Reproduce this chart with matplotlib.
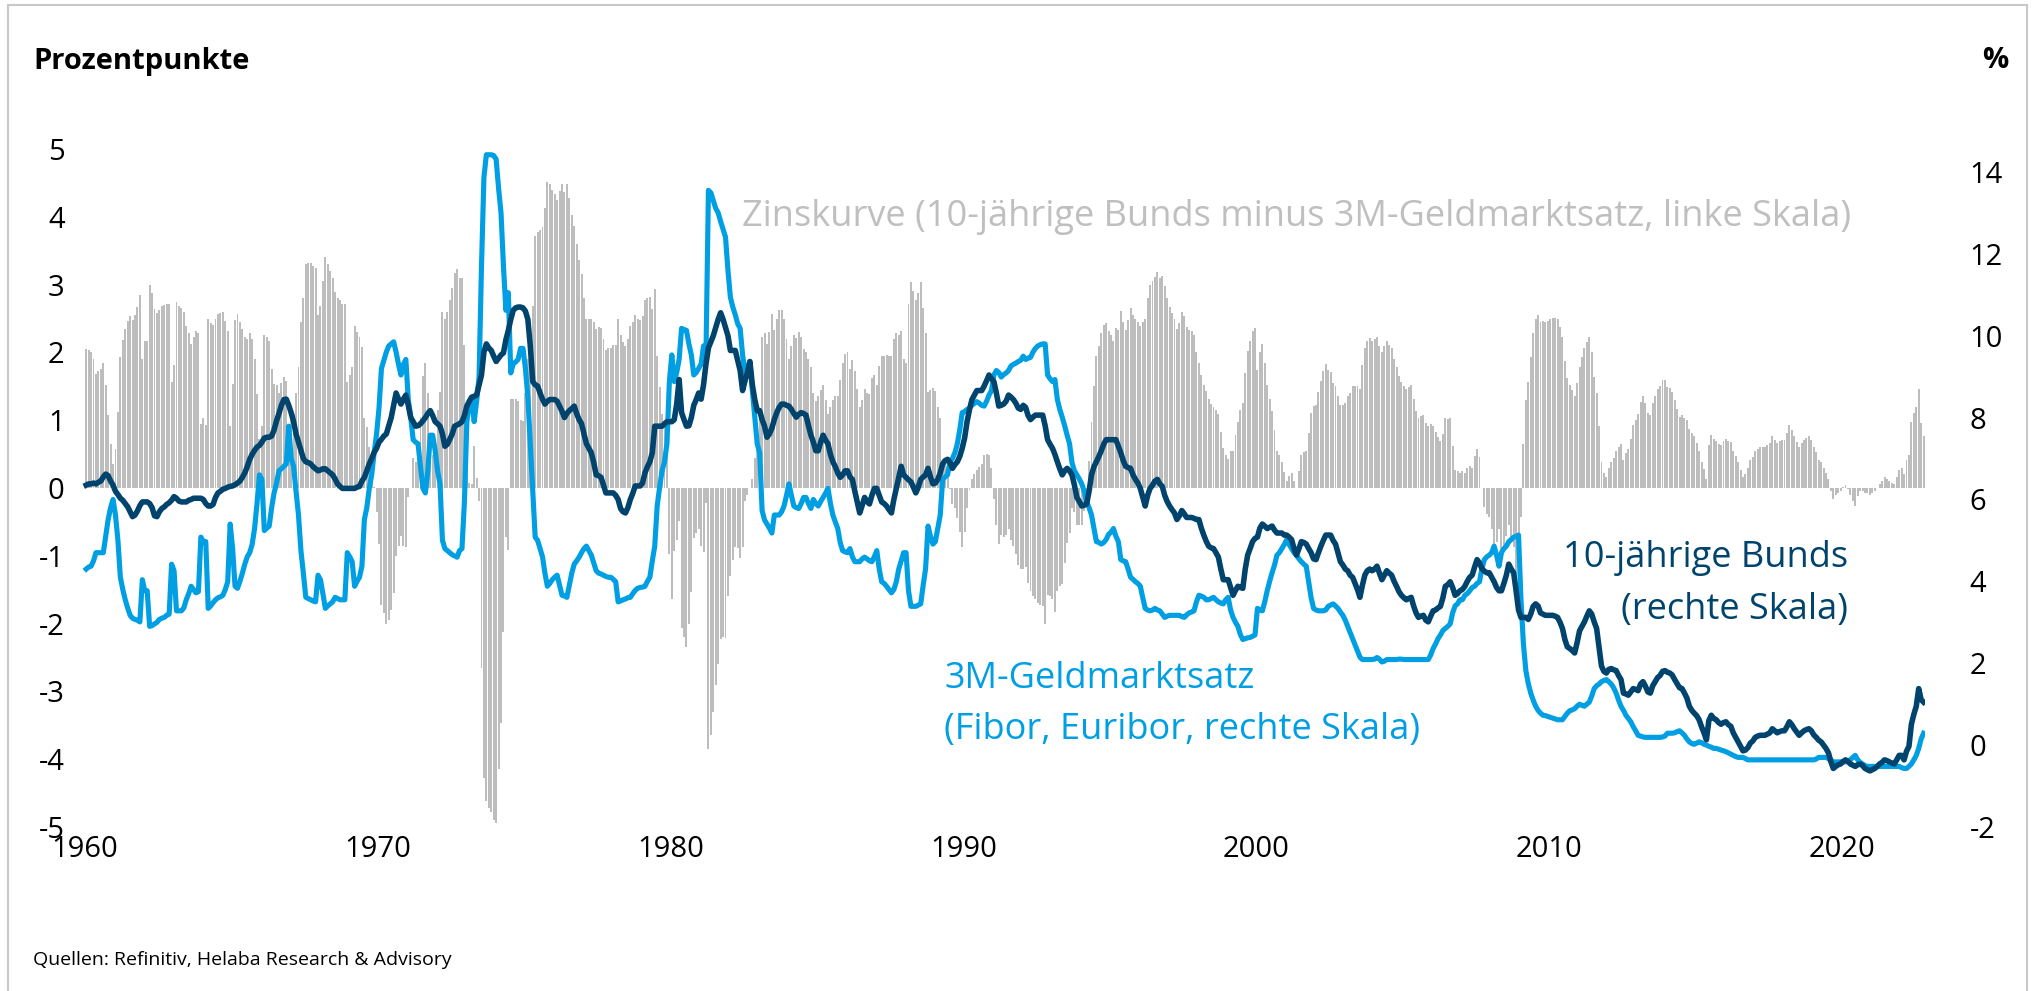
import numpy as np
import matplotlib.pyplot as plt
from matplotlib.patches import Rectangle

plt.rcParams['font.family'] = ['Open Sans', 'DejaVu Sans']
plt.rcParams['axes.unicode_minus'] = False

# 10-jaehrige Bunds, Monatswerte ab Jan 1960 (%)
bund_10y = [
    6.35, 6.38, 6.38, 6.40, 6.38, 6.42, 6.45, 6.55, 6.62, 6.58, 6.45, 6.35,  # 1960
    6.20, 6.12, 6.03, 5.98, 5.90, 5.82, 5.70, 5.58, 5.62, 5.72, 5.85, 5.94,
    5.94, 5.94, 5.90, 5.80, 5.60, 5.58, 5.70, 5.78, 5.82, 5.88, 5.92, 5.98,
    6.07, 6.03, 5.96, 5.94, 5.94, 5.94, 5.98, 6.00, 6.03, 6.03, 6.03, 6.03,
    6.00, 5.90, 5.84, 5.84, 5.88, 6.05, 6.16, 6.20, 6.25, 6.27, 6.30, 6.32,
    6.33, 6.36, 6.40, 6.45, 6.54, 6.65, 6.80, 6.98, 7.10, 7.20, 7.28, 7.32,  # 1965
    7.40, 7.50, 7.52, 7.52, 7.55, 7.70, 7.92, 8.10, 8.30, 8.44, 8.45, 8.30,
    8.12, 7.90, 7.60, 7.40, 7.20, 7.00, 6.92, 6.90, 6.87, 6.80, 6.75, 6.70,
    6.72, 6.75, 6.75, 6.70, 6.65, 6.60, 6.50, 6.38, 6.32, 6.27, 6.27, 6.27,
    6.27, 6.27, 6.27, 6.30, 6.32, 6.45, 6.54, 6.70, 6.87, 7.00, 7.15, 7.25,
    7.40, 7.47, 7.55, 7.60, 7.80, 8.00, 8.30, 8.60, 8.45, 8.33, 8.45, 8.55,  # 1970
    8.30, 8.00, 7.90, 7.79, 7.80, 7.85, 7.92, 8.00, 8.10, 8.17, 8.05, 7.90,
    7.85, 7.79, 7.60, 7.30, 7.35, 7.47, 7.60, 7.79, 7.82, 7.85, 7.90, 8.05,
    8.28, 8.40, 8.50, 8.52, 8.55, 8.80, 9.04, 9.60, 9.80, 9.70, 9.64, 9.50,
    9.37, 9.45, 9.53, 9.58, 9.90, 10.13, 10.40, 10.62, 10.68, 10.70, 10.70, 10.68,
    10.60, 10.40, 9.75, 8.88, 8.80, 8.77, 8.60, 8.45, 8.33, 8.40, 8.44, 8.44,  # 1975
    8.44, 8.40, 8.28, 8.15, 8.00, 8.10, 8.17, 8.22, 8.28, 8.10, 7.95, 7.85,
    7.60, 7.36, 7.25, 7.14, 6.90, 6.60, 6.58, 6.54, 6.35, 6.16, 6.16, 6.16,
    6.16, 6.10, 6.00, 5.78, 5.70, 5.67, 5.80, 6.00, 6.15, 6.33, 6.33, 6.33,
    6.40, 6.65, 6.80, 6.92, 7.14, 7.79, 7.79, 7.79, 7.79, 7.85, 7.90, 7.90,
    7.90, 7.95, 8.33, 8.93, 8.12, 7.95, 7.79, 7.80, 8.00, 8.30, 8.44, 8.60,  # 1980
    8.45, 8.80, 9.31, 9.70, 9.85, 10.00, 10.20, 10.40, 10.56, 10.40, 10.20, 10.00,
    9.64, 9.64, 9.64, 9.40, 9.15, 8.66, 8.90, 9.10, 9.37, 8.80, 8.44, 8.17,
    8.17, 7.95, 7.79, 7.52, 7.60, 7.74, 7.95, 8.12, 8.25, 8.33, 8.33, 8.30,
    8.28, 8.20, 8.10, 8.01, 8.08, 8.12, 8.10, 8.06, 7.80, 7.57, 7.40, 7.19,
    7.19, 7.40, 7.57, 7.45, 7.36, 7.10, 6.92, 6.80, 6.65, 6.54, 6.60, 6.70,  # 1985
    6.70, 6.55, 6.49, 6.20, 5.94, 5.67, 5.85, 6.05, 5.95, 5.89, 6.10, 6.27,
    6.27, 6.10, 5.94, 5.90, 5.84, 5.75, 5.67, 6.00, 6.27, 6.55, 6.81, 6.60,
    6.54, 6.48, 6.43, 6.30, 6.16, 6.30, 6.49, 6.55, 6.60, 6.76, 6.55, 6.38,
    6.40, 6.49, 6.65, 6.87, 6.95, 6.98, 6.90, 6.76, 6.85, 6.92, 7.05, 7.25,
    7.50, 7.90, 8.20, 8.44, 8.55, 8.66, 8.66, 8.66, 8.77, 8.90, 9.04, 8.95,  # 1990
    8.88, 8.60, 8.28, 8.30, 8.33, 8.40, 8.55, 8.50, 8.44, 8.35, 8.23, 8.20,
    8.30, 8.25, 8.05, 7.95, 8.01, 8.06, 8.06, 8.06, 8.06, 7.80, 7.46, 7.35,
    7.25, 7.10, 6.92, 6.75, 6.60, 6.70, 6.76, 6.70, 6.60, 6.35, 6.05, 5.95,
    5.84, 5.86, 5.89, 6.20, 6.60, 6.80, 6.92, 7.05, 7.19, 7.35, 7.46, 7.46,
    7.46, 7.46, 7.46, 7.30, 7.14, 6.95, 6.81, 6.78, 6.76, 6.60, 6.49, 6.40,  # 1995
    6.27, 6.05, 5.84, 6.10, 6.27, 6.35, 6.45, 6.49, 6.38, 6.32, 6.10, 5.95,
    5.84, 5.75, 5.67, 5.51, 5.60, 5.73, 5.65, 5.56, 5.56, 5.56, 5.54, 5.51,
    5.51, 5.30, 5.13, 4.98, 4.86, 4.82, 4.80, 4.70, 4.59, 4.30, 4.04, 4.04,
    4.04, 3.85, 3.66, 3.78, 3.88, 3.85, 3.83, 4.30, 4.64, 4.80, 4.97, 5.05,
    5.08, 5.30, 5.40, 5.35, 5.29, 5.32, 5.35, 5.25, 5.18, 5.18, 5.18, 5.13,  # 2000
    5.13, 5.08, 5.02, 4.80, 4.64, 4.80, 4.97, 4.95, 4.91, 4.80, 4.70, 4.55,
    4.53, 4.70, 4.86, 5.00, 5.13, 5.13, 5.13, 5.00, 4.91, 4.70, 4.48, 4.40,
    4.30, 4.26, 4.15, 4.10, 3.95, 3.80, 3.61, 3.90, 4.15, 4.26, 4.30, 4.26,
    4.30, 4.37, 4.20, 4.04, 4.15, 4.26, 4.20, 4.15, 4.00, 3.88, 3.75, 3.66,
    3.60, 3.55, 3.58, 3.61, 3.40, 3.23, 3.12, 3.15, 3.17, 3.05, 3.01, 3.15,  # 2005
    3.28, 3.30, 3.35, 3.39, 3.60, 3.88, 3.92, 3.99, 3.85, 3.66, 3.70, 3.77,
    3.80, 3.88, 4.00, 4.10, 4.15, 4.35, 4.53, 4.45, 4.31, 4.25, 4.21, 4.21,
    4.10, 3.99, 3.85, 3.77, 3.77, 3.95, 4.15, 4.42, 4.30, 4.21, 3.77, 3.30,
    3.12, 3.12, 3.12, 3.07, 3.20, 3.39, 3.45, 3.40, 3.23, 3.20, 3.17, 3.17,
    3.17, 3.17, 3.15, 3.12, 3.00, 2.85, 2.58, 2.40, 2.36, 2.31, 2.25, 2.50,  # 2010
    2.79, 2.90, 3.01, 3.15, 3.28, 3.20, 3.01, 2.85, 2.40, 1.93, 1.80, 1.76,
    1.85, 1.87, 1.84, 1.82, 1.70, 1.60, 1.27, 1.25, 1.22, 1.30, 1.38, 1.36,
    1.33, 1.49, 1.55, 1.44, 1.30, 1.27, 1.45, 1.55, 1.65, 1.70, 1.80, 1.82,
    1.78, 1.76, 1.71, 1.60, 1.50, 1.40, 1.38, 1.27, 1.15, 0.95, 0.85, 0.78,
    0.72, 0.62, 0.45, 0.30, 0.13, 0.60, 0.73, 0.65, 0.62, 0.55, 0.51, 0.55,  # 2015
    0.57, 0.50, 0.46, 0.30, 0.19, 0.08, -0.03, -0.14, -0.12, -0.06, 0.05, 0.10,
    0.19, 0.22, 0.24, 0.24, 0.24, 0.27, 0.30, 0.40, 0.35, 0.30, 0.33, 0.35,
    0.35, 0.45, 0.57, 0.50, 0.40, 0.32, 0.24, 0.30, 0.35, 0.38, 0.40, 0.35,
    0.25, 0.19, 0.12, 0.08, 0.00, -0.08, -0.19, -0.40, -0.57, -0.52, -0.48, -0.46,
    -0.40, -0.36, -0.40, -0.46, -0.49, -0.52, -0.48, -0.46, -0.50, -0.57, -0.60, -0.63,  # 2020
    -0.60, -0.57, -0.52, -0.46, -0.42, -0.36, -0.38, -0.41, -0.44, -0.46, -0.36, -0.25,
    -0.25, -0.36, -0.15, -0.03, 0.51, 0.75, 0.95, 1.38, 1.11, 1.05,  # 2022 (bis Okt)
]

# 3M-Geldmarktsatz (Fibor, Euribor), Monatswerte ab Jan 1960 (%)
geldmarkt_3m = [
    4.30, 4.35, 4.37, 4.50, 4.70, 4.70, 4.70, 4.70, 5.10, 5.51, 5.80, 6.00,  # 1960
    5.62, 5.00, 4.10, 3.80, 3.55, 3.35, 3.17, 3.10, 3.07, 3.05, 3.01, 4.04,
    3.77, 3.77, 2.90, 2.92, 2.96, 3.00, 3.07, 3.10, 3.12, 3.17, 3.20, 4.42,
    4.26, 3.28, 3.28, 3.28, 3.35, 3.55, 3.70, 3.88, 3.80, 3.72, 3.75, 5.08,
    4.97, 4.97, 3.34, 3.40, 3.48, 3.55, 3.60, 3.62, 3.66, 3.80, 3.99, 5.40,
    4.80, 3.88, 3.83, 4.00, 4.20, 4.42, 4.60, 4.70, 4.90, 5.29, 5.90, 6.60,  # 1965
    6.49, 5.24, 5.30, 5.35, 5.80, 6.16, 6.40, 6.70, 6.75, 6.81, 6.87, 7.79,
    7.00, 6.81, 6.20, 5.62, 4.75, 4.20, 3.61, 3.58, 3.55, 3.52, 3.50, 4.15,
    4.04, 3.70, 3.34, 3.40, 3.45, 3.50, 3.61, 3.58, 3.55, 3.55, 3.55, 4.70,
    4.60, 4.48, 3.88, 4.00, 4.10, 4.37, 5.51, 5.80, 6.27, 6.60, 7.14, 7.60,
    8.23, 9.20, 9.40, 9.60, 9.75, 9.80, 9.85, 9.60, 9.30, 9.04, 9.30, 9.42,  # 1970
    8.44, 8.00, 7.46, 7.40, 7.36, 6.80, 6.27, 6.16, 6.70, 7.57, 7.57, 7.20,
    6.70, 6.38, 5.00, 4.80, 4.75, 4.70, 4.65, 4.62, 4.59, 4.75, 4.80, 5.94,
    7.90, 8.33, 8.44, 7.90, 8.40, 8.99, 11.70, 13.87, 14.42, 14.42, 14.42, 14.40,
    14.31, 13.60, 13.00, 11.70, 10.62, 11.05, 9.09, 9.31, 9.36, 9.42, 9.69, 9.69,
    9.20, 8.50, 7.36, 6.20, 5.08, 5.00, 4.80, 4.60, 4.20, 3.88, 3.95, 4.04,  # 1975
    4.10, 4.15, 3.90, 3.66, 3.64, 3.61, 3.90, 4.20, 4.42, 4.50, 4.59, 4.70,
    4.80, 4.86, 4.75, 4.64, 4.45, 4.26, 4.20, 4.18, 4.15, 4.12, 4.10, 4.10,
    4.05, 3.99, 3.50, 3.52, 3.55, 3.57, 3.60, 3.61, 3.70, 3.78, 3.83, 3.85,
    3.86, 3.88, 4.00, 4.10, 4.50, 4.86, 5.84, 6.30, 6.70, 6.92, 7.36, 8.88,
    9.53, 8.88, 9.10, 9.42, 10.18, 10.15, 10.13, 9.80, 9.53, 9.04, 9.10, 9.20,  # 1980
    9.31, 9.75, 9.53, 13.55, 13.49, 13.30, 13.11, 13.00, 12.79, 12.60, 12.41, 11.60,
    10.94, 10.70, 10.51, 10.29, 10.18, 9.53, 9.09, 9.20, 9.37, 8.66, 8.00, 7.36,
    7.14, 5.73, 5.50, 5.40, 5.30, 5.18, 5.62, 5.62, 5.62, 5.70, 5.84, 6.10,
    6.38, 6.10, 5.84, 5.80, 5.78, 5.90, 6.05, 6.05, 5.90, 5.78, 6.00, 5.90,
    5.84, 5.95, 6.05, 6.15, 6.27, 5.90, 5.62, 5.45, 5.29, 4.95, 4.75, 4.72,  # 1985
    4.70, 4.80, 4.60, 4.48, 4.48, 4.48, 4.55, 4.59, 4.55, 4.50, 4.48, 4.60,
    4.75, 4.30, 3.99, 3.95, 3.88, 3.80, 3.72, 3.80, 3.99, 4.30, 4.50, 4.70,
    4.70, 3.77, 3.39, 3.39, 3.39, 3.42, 3.45, 3.90, 4.31, 5.35, 5.10, 4.91,
    4.97, 5.30, 5.62, 6.49, 6.55, 6.60, 6.92, 7.00, 7.14, 7.36, 7.70, 8.12,
    8.15, 8.20, 8.23, 8.30, 8.35, 8.39, 8.35, 8.30, 8.28, 8.40, 8.55, 8.66,  # 1990
    9.04, 9.15, 9.10, 8.99, 9.05, 9.09, 9.15, 9.26, 9.30, 9.33, 9.37, 9.40,
    9.50, 9.42, 9.45, 9.47, 9.60, 9.69, 9.75, 9.78, 9.80, 9.80, 9.04, 8.95,
    8.88, 8.93, 8.44, 8.20, 8.01, 7.80, 7.57, 7.36, 6.90, 6.70, 6.60, 6.50,
    6.38, 6.20, 5.94, 5.80, 5.62, 5.30, 4.97, 4.95, 4.91, 4.95, 5.02, 5.15,
    5.20, 5.29, 5.10, 4.97, 4.53, 4.50, 4.48, 4.30, 4.10, 4.05, 3.99, 3.95,  # 1995
    3.88, 3.60, 3.34, 3.30, 3.28, 3.30, 3.34, 3.30, 3.28, 3.20, 3.12, 3.15,
    3.17, 3.17, 3.17, 3.17, 3.17, 3.14, 3.12, 3.18, 3.23, 3.25, 3.28, 3.50,
    3.66, 3.64, 3.61, 3.55, 3.55, 3.58, 3.61, 3.55, 3.50, 3.47, 3.45, 3.55,
    3.61, 3.30, 3.12, 3.00, 2.90, 2.70, 2.58, 2.60, 2.62, 2.63, 2.66, 2.69,
    3.34, 3.30, 3.28, 3.50, 3.77, 4.00, 4.21, 4.40, 4.64, 4.70, 4.80, 4.90,  # 2000
    5.02, 4.90, 4.80, 4.70, 4.64, 4.55, 4.48, 4.42, 4.37, 3.99, 3.60, 3.34,
    3.30, 3.28, 3.28, 3.28, 3.30, 3.39, 3.42, 3.45, 3.40, 3.34, 3.25, 3.17,
    3.05, 2.90, 2.75, 2.60, 2.45, 2.30, 2.15, 2.09, 2.09, 2.09, 2.09, 2.09,
    2.10, 2.14, 2.10, 2.03, 2.05, 2.09, 2.09, 2.09, 2.09, 2.09, 2.10, 2.10,
    2.09, 2.09, 2.09, 2.09, 2.09, 2.09, 2.09, 2.09, 2.09, 2.09, 2.09, 2.20,  # 2005
    2.36, 2.47, 2.60, 2.69, 2.80, 2.85, 2.90, 2.96, 3.23, 3.40, 3.45, 3.55,
    3.55, 3.66, 3.70, 3.77, 3.85, 3.88, 3.95, 3.99, 4.31, 4.53, 4.60, 4.64,
    4.70, 4.86, 4.64, 4.37, 4.70, 4.80, 4.86, 4.97, 5.02, 5.08, 5.10, 5.13,
    3.55, 2.47, 1.82, 1.50, 1.27, 1.10, 0.95, 0.85, 0.78, 0.73, 0.72, 0.70,
    0.68, 0.66, 0.64, 0.62, 0.62, 0.62, 0.70, 0.78, 0.84, 0.86, 0.89, 0.95,  # 2010
    1.00, 0.97, 0.95, 1.00, 1.05, 1.20, 1.38, 1.45, 1.49, 1.55, 1.58, 1.60,
    1.55, 1.49, 1.40, 1.27, 1.10, 0.95, 0.85, 0.73, 0.65, 0.57, 0.45, 0.35,
    0.24, 0.22, 0.20, 0.19, 0.19, 0.19, 0.19, 0.19, 0.19, 0.19, 0.20, 0.22,
    0.29, 0.29, 0.29, 0.30, 0.33, 0.35, 0.30, 0.24, 0.15, 0.08, 0.04, 0.02,
    0.05, 0.08, 0.06, 0.02, 0.00, -0.03, -0.05, -0.08, -0.08, -0.10, -0.12, -0.14,  # 2015
    -0.16, -0.19, -0.22, -0.25, -0.28, -0.30, -0.30, -0.30, -0.33, -0.36, -0.36, -0.36,
    -0.36, -0.36, -0.36, -0.36, -0.36, -0.36, -0.36, -0.36, -0.36, -0.36, -0.36, -0.36,
    -0.36, -0.36, -0.36, -0.36, -0.36, -0.36, -0.36, -0.36, -0.36, -0.36, -0.36, -0.36,
    -0.36, -0.34, -0.30, -0.30, -0.30, -0.30, -0.33, -0.36, -0.41, -0.41, -0.41, -0.41,
    -0.41, -0.41, -0.38, -0.36, -0.30, -0.25, -0.36, -0.42, -0.46, -0.50, -0.52, -0.52,  # 2020
    -0.52, -0.52, -0.52, -0.52, -0.52, -0.52, -0.52, -0.52, -0.52, -0.52, -0.52, -0.52,
    -0.55, -0.57, -0.57, -0.52, -0.46, -0.36, -0.25, -0.08, 0.15, 0.29,  # 2022 (bis Okt)
]

year_ticks = [1960, 1970, 1980, 1990, 2000, 2010, 2020]
left_ticks = [-5, -4, -3, -2, -1, 0, 1, 2, 3, 4, 5]
right_ticks = [-2, 0, 2, 4, 6, 8, 10, 12, 14]

NAVY = '#00446e'
CYAN = '#009fe3'
GREY = '#bdbdbd'

bund = np.array(bund_10y)
m3 = np.array(geldmarkt_3m)
# Zinskurve = 10J Bunds minus 3M-Geldmarktsatz
spread = bund - m3
t = 1960 + (np.arange(len(bund)) + 0.5) / 12

W, H = 2034, 991
fig = plt.figure(figsize=(W / 100, H / 100), dpi=100)
ax = fig.add_axes([80 / W, 1 - 827 / H, (1925 - 80) / W, (827 - 149) / H])
ax2 = ax.twinx()

ax.bar(t, spread, width=0.8 / 12, color=GREY, linewidth=0)
ax2.plot(t, m3, color=CYAN, lw=3.7, solid_joinstyle='round')
ax2.plot(t, bund, color=NAVY, lw=4.0, solid_joinstyle='round')

ax.set_xlim(1959.83, 2022.84)
ax.set_ylim(-5, 5)
ax2.set_ylim(-2, 14.56)
ax.set_xticks(year_ticks)
ax.set_yticks(left_ticks)
ax2.set_yticks(right_ticks)

for a in (ax, ax2):
    for s in a.spines.values():
        s.set_visible(False)
ax.tick_params(axis='x', length=0, labelsize=21, pad=6)
ax.tick_params(axis='y', length=0, labelsize=21, pad=11)
ax2.tick_params(axis='y', length=0, labelsize=21, pad=32)

fig.text(33 / W, 1 - 61 / H, 'Prozentpunkte', fontsize=21, fontweight='bold', va='center', ha='left')
fig.text(2008 / W, 1 - 61 / H, '%', fontsize=21, fontweight='bold', va='center', ha='right')

fig.text(742 / W, 1 - 217 / H, 'Zinskurve (10-jährige Bunds minus 3M-Geldmarktsatz, linke Skala)',
         fontsize=26, color='#bfbfbf', va='center', ha='left')
fig.text(1848 / W, 1 - 558 / H, '10-jährige Bunds', fontsize=26, color=NAVY, va='center', ha='right')
fig.text(1848 / W, 1 - 610 / H, '(rechte Skala)', fontsize=26, color=NAVY, va='center', ha='right')
fig.text(944 / W, 1 - 679 / H, '3M-Geldmarktsatz', fontsize=26, color=CYAN, va='center', ha='left')
fig.text(944 / W, 1 - 730 / H, '(Fibor, Euribor, rechte Skala)', fontsize=26, color=CYAN, va='center', ha='left')

fig.text(33 / W, 1 - 960 / H, 'Quellen: Refinitiv, Helaba Research & Advisory', fontsize=14, va='center', ha='left')

fig.patches.append(Rectangle((8 / W, -0.02), (2027 - 8) / W, 1.02 - 5 / H, transform=fig.transFigure,
                             fill=False, edgecolor='#c8c8c8', linewidth=1.5))

fig.savefig('out.png', dpi=100)
